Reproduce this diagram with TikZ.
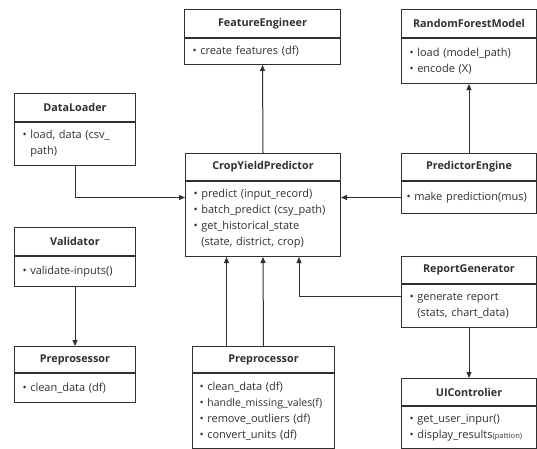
\documentclass[tikz,border=0pt]{standalone}
\usepackage{fontspec}
\setmainfont{Open Sans}
\usetikzlibrary{arrows.meta}
\definecolor{ink}{HTML}{303030}
\newcommand\bul{\textbullet\ }
\newcommand\cont{\hphantom{\textbullet\ }}

\begin{document}
\begin{tikzpicture}[x=1pt,y=-1pt,
	every node/.style={text=ink, font=\fontsize{11}{16}\selectfont},
	head/.style={draw=ink, line width=1pt, anchor=north west, inner sep=0pt,
		font=\fontsize{10.8}{12}\selectfont\bfseries},
	body/.style={draw=ink, line width=1pt, anchor=north west, inner xsep=8pt,
		inner ysep=0pt, align=left},
	link/.style={draw=ink, line width=1pt, -{Triangle[length=6pt,width=5pt]}}]
	\useasboundingbox (0,0) rectangle (537,448);
	% top row
	\node[head, minimum width=156, minimum height=28] (fe) at (184,9) {FeatureEngineer};
	\node[body, text width=140, minimum height=26] (feb) at (fe.south west) {\bul create features (df)};
	\node[head, minimum width=135, minimum height=28] (rfm) at (401,9) {RandomForestModel};
	\node[body, text width=119, minimum height=45] (rfmb) at (rfm.south west) {\bul load (model\_path)\\ \bul encode (X)};
	% left column
	\node[head, minimum width=121, minimum height=28] (dl) at (14,93) {DataLoader};
	\node[body, text width=105, minimum height=43] (dlb) at (dl.south west) {\bul load, data (csv\_\\ \cont path)};
	\node[head, minimum width=121, minimum height=28] (val) at (14,227) {Validator};
	\node[body, text width=105, minimum height=30] (valb) at (val.south west) {\bul validate-inputs()};
	\node[head, minimum width=121, minimum height=26] (pre1) at (14,346) {Preprosessor};
	\node[body, text width=105, minimum height=29] (pre1b) at (pre1.south west) {\bul clean\_data (df)};
	% centre
	\node[head, minimum width=155, minimum height=27] (cyp) at (185,153) {CropYieldPredictor};
	\node[body, text width=139, minimum height=75] (cypb) at (cyp.south west) {\bul predict (input\_record)\\ \bul batch\_predict (csy\_path)\\ \bul get\_historical\_state\\ \cont (state, district, crop)};
	\node[head, minimum width=142, minimum height=26] (pre2) at (192,346) {Preprocessor};
	\node[body, text width=128, inner xsep=7pt, minimum height=75] (pre2b) at (pre2.south west) {\bul clean\_data (df)\\ \bul {\fontsize{10.5}{16}\selectfont handle\_missing\_vales(f)}\\ \bul remove\_outliers (df)\\ \bul convert\_units (df)};
	% right column
	\node[head, minimum width=135, minimum height=27] (pe) at (401,153) {PredictorEngine};
	\node[body, text width=125, inner xsep=5pt, minimum height=32] (peb) at (pe.south west) {\mbox{\bul make prediction(mus)}};
	\node[head, minimum width=135, minimum height=27] (rg) at (401,256) {ReportGenerator};
	\node[body, text width=119, minimum height=43] (rgb) at (rg.south west) {\bul generate report\\ \cont (stats, chart\_data)};
	\node[head, minimum width=135, minimum height=27] (ui) at (401,378) {UIControlier};
	\node[body, text width=119, minimum height=42] (uib) at (ui.south west) {\bul get\_user\_inpur()\\ \bul display\_results{\fontsize{7.5}{8}\selectfont(pattion)}};
	% links
	\draw[link] (cyp.north) -- (feb.south);
	\draw[link] (dlb.south) |- (cypb.west |- peb.west);
	\draw[link] (peb.west) -- (cypb.east |- peb.west);
	\draw[link] (pe.north) -- (rfmb.south);
	\draw[link] (valb.south) -- (pre1.north);
	\draw[link] (pre2.north) -- (cypb.south);
	\draw[link] ([xshift=-37pt]pre2.north) -- ([xshift=-37pt]pre2.north |- cypb.south);
	\draw[link] ([yshift=10pt]rgb.west) -| ([xshift=36pt]cypb.south);
	\draw[link] (rgb.south) -- (ui.north);
\end{tikzpicture}
\end{document}
